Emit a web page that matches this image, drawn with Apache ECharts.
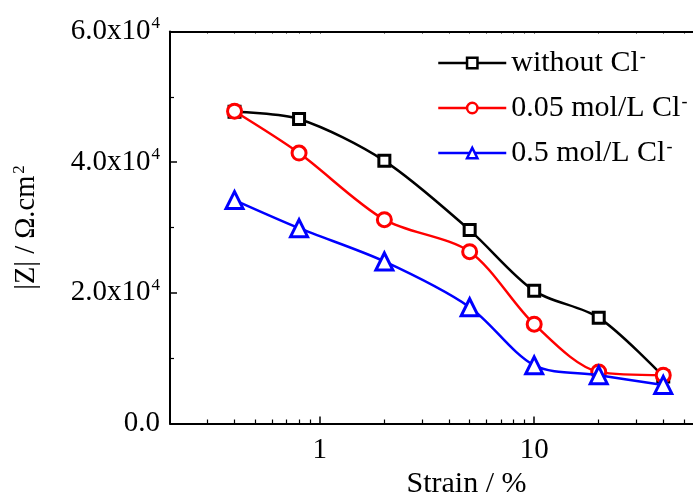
<!DOCTYPE html>
<html>
<head>
<meta charset="utf-8">
<script src="https://cdn.jsdelivr.net/npm/echarts@6/dist/echarts.min.js"></script>
<style>
  html, body { margin: 0; padding: 0; background: #fff; }
  #chart { width: 693px; height: 496px; }
</style>
</head>
<body>
<div id="chart"></div>
<script>
// Strain levels (%) and impedance modulus |Z| (Ω·cm²)
const strain = [0.4, 0.8, 2, 5, 10, 20, 40];
const zNoCl = [47700, 46600, 40200, 29600, 20300, 16200, 7200];
const z005Cl = [47800, 41400, 31200, 26300, 15200, 7900, 7400];
const z05Cl = [34200, 29900, 24800, 17800, 8900, 7400, 5900];

const seriesNames = ['without Cl', '0.05 mol/L Cl', '0.5 mol/L Cl'];
const majorXTicks = [1, 10];
const minorXTicks = [0.3, 0.4, 0.5, 0.6, 0.7, 0.8, 0.9, 2, 3, 4, 5, 6, 7, 8, 9, 20, 30, 40, 50];

const FONT = '"Liberation Serif", "Times New Roman", serif';

function pairs(ys) { return strain.map((x, i) => [x, ys[i]]); }

function yLabel(v) {
  if (v === 0) return '{m|0.0}';
  const mant = (v / 10000).toFixed(1);
  return '{m|' + mant + 'x10}{s|4}';
}

const chart = echarts.init(document.getElementById('chart'), null, { renderer: 'canvas' });

const xCommon = { type: 'log', min: 0.2, max: 60, logBase: 10, gridIndex: 0, splitLine: { show: false } };

chart.setOption({
  animation: false,
  backgroundColor: '#fff',
  grid: { left: 170, top: 31.5, right: -8, bottom: 72.5, containLabel: false, outerBoundsMode: 'none' },
  legend: {
    left: 432, top: 43,
    orient: 'vertical',
    itemWidth: 68, itemHeight: 13, itemGap: 13,
    lineStyle: { width: 2.5 },
    itemStyle: { borderWidth: 2.5 },
    textStyle: { fontFamily: FONT, fontSize: 30, color: '#000', lineHeight: 30,
      rich: {
        t: { fontFamily: FONT, fontSize: 30, color: '#000', lineHeight: 30 },
        s: { fontFamily: FONT, fontSize: 18, color: '#000', lineHeight: 30, verticalAlign: 'top', padding: [0, 0, 14, 1] }
      }
    },
    formatter: name => '{t|' + name + '}{s|-}',
    data: seriesNames
  },
  xAxis: [
    Object.assign({}, xCommon, {
      position: 'bottom',
      name: 'Strain / %',
      nameLocation: 'middle',
      nameGap: 46,
      nameTextStyle: { fontFamily: FONT, fontSize: 30, color: '#000', padding: [0, 0, 0, 62] },
      axisLine: { show: true, lineStyle: { color: '#000', width: 2 } },
      axisTick: { show: true, inside: true, length: 7, lineStyle: { color: '#000', width: 1.5 }, customValues: majorXTicks },
      axisLabel: { show: true, margin: 12, fontFamily: FONT, fontSize: 29, color: '#000', customValues: majorXTicks,
        formatter: v => String(v) }
    }),
    Object.assign({}, xCommon, {
      position: 'bottom',
      axisLine: { show: false },
      axisTick: { show: true, inside: true, length: 4, lineStyle: { color: '#000', width: 1.2 }, customValues: minorXTicks },
      axisLabel: { show: false }
    }),
    Object.assign({}, xCommon, {
      position: 'top',
      axisLine: { show: true, lineStyle: { color: '#000', width: 2 } },
      axisTick: { show: true, inside: true, length: 2, lineStyle: { color: '#000', width: 1 }, customValues: majorXTicks.concat(minorXTicks) },
      axisLabel: { show: false }
    })
  ],
  yAxis: [{
    type: 'value',
    min: 0, max: 60000, interval: 20000,
    position: 'left',
    name: '{m|\u007CZ\u007C / \u03A9.cm}{s|2}',
    nameLocation: 'middle',
    nameGap: 128,
    nameRotate: 90,
    nameTextStyle: {
      rich: {
        m: { fontFamily: FONT, fontSize: 28.5, color: '#000' },
        s: { fontFamily: FONT, fontSize: 17, color: '#000', verticalAlign: 'top', padding: [0, 0, 14, 2] }
      }
    },
    splitLine: { show: false },
    axisLine: { show: true, lineStyle: { color: '#000', width: 2 } },
    axisTick: { show: true, inside: true, length: 7, lineStyle: { color: '#000', width: 1.5 } },
    minorTick: { show: true, splitNumber: 2, length: 4, lineStyle: { color: '#000', width: 1.2 } },
    axisLabel: {
      margin: 10,
      formatter: yLabel,
      rich: {
        m: { fontFamily: FONT, fontSize: 29, color: '#000' },
        s: { fontFamily: FONT, fontSize: 17, color: '#000', verticalAlign: 'top', padding: [0, 0, 15, 1] }
      }
    }
  }],
  series: [
    {
      name: seriesNames[0], type: 'line', xAxisIndex: 0, data: pairs(zNoCl),
      smooth: 0.3, symbol: 'rect', symbolSize: 11, z: 2,
      lineStyle: { color: '#000', width: 2.5 },
      itemStyle: { color: '#fff', borderColor: '#000', borderWidth: 3 }
    },
    {
      name: seriesNames[1], type: 'line', xAxisIndex: 0, data: pairs(z005Cl),
      smooth: 0.3, symbol: 'circle', symbolSize: 14, z: 3,
      lineStyle: { color: '#ff0000', width: 2.5 },
      itemStyle: { color: '#fff', borderColor: '#ff0000', borderWidth: 3 }
    },
    {
      name: seriesNames[2], type: 'line', xAxisIndex: 0, data: pairs(z05Cl),
      smooth: 0.3, symbol: 'triangle', symbolSize: 17, z: 4,
      lineStyle: { color: '#0000ff', width: 2.5 },
      itemStyle: { color: '#fff', borderColor: '#0000ff', borderWidth: 3 }
    }
  ]
});
</script>
</body>
</html>
